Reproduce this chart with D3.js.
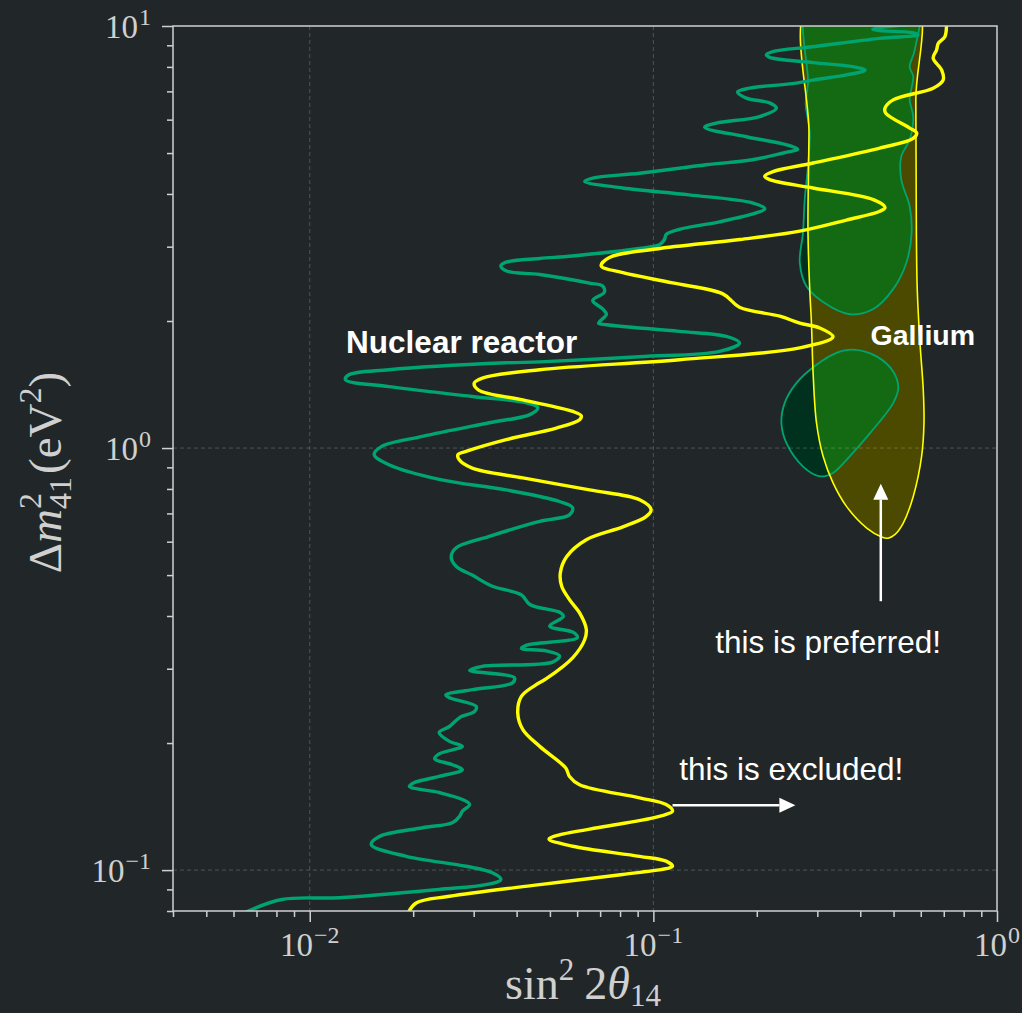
<!DOCTYPE html>
<html>
<head>
<meta charset="utf-8">
<script src="https://cdn.jsdelivr.net/npm/d3@7"></script>
<style>
  html, body { margin: 0; padding: 0; background: #212729; }
</style>
</head>
<body>
<div id="chart"></div>
<script>
// Reactor exclusion contour, [sin^2 2theta, dm^2 (eV^2)]
const reactorCurve = [
  [0.0064, 0.079], [0.0083, 0.0852], [0.0122, 0.086], [0.0238, 0.090], [0.0326, 0.0924], [0.036, 0.095],
  [0.034, 0.0986], [0.0285, 0.1021], [0.0191, 0.1078], [0.0151, 0.1149], [0.0159, 0.120], [0.0213, 0.126],
  [0.026, 0.1295], [0.0273, 0.1341], [0.0278, 0.1379], [0.0292, 0.143], [0.0278, 0.147], [0.0238, 0.1527],
  [0.0195, 0.1579], [0.0201, 0.1611], [0.0238, 0.1667], [0.0278, 0.1729], [0.026, 0.1777], [0.0231, 0.1836],
  [0.0238, 0.1886], [0.0278, 0.1964], [0.0255, 0.2018], [0.0238, 0.2118], [0.0255, 0.2189], [0.0273, 0.2298],
  [0.0302, 0.2376], [0.0305, 0.2443], [0.0255, 0.2561], [0.0249, 0.260], [0.0298, 0.2676], [0.0389, 0.2778],
  [0.0394, 0.2857], [0.0292, 0.2973], [0.0318, 0.304], [0.0509, 0.3111], [0.0533, 0.3217], [0.0488, 0.3306],
  [0.0413, 0.3351], [0.0428, 0.3412], [0.0601, 0.3555], [0.0585, 0.3657], [0.0499, 0.3786], [0.0547, 0.399],
  [0.0536, 0.4074], [0.0437, 0.4259], [0.0413, 0.449], [0.034, 0.4705], [0.0297, 0.50], [0.0267, 0.5242],
  [0.0258, 0.5526], [0.0267, 0.5804], [0.0333, 0.6177], [0.0467, 0.6702], [0.057, 0.6944], [0.0582, 0.7222],
  [0.0533, 0.7471], [0.0373, 0.7959], [0.0238, 0.843], [0.017, 0.913], [0.0154, 0.965], [0.0162, 1.009],
  [0.0213, 1.066], [0.0333, 1.148], [0.0437, 1.20], [0.0461, 1.246], [0.0427, 1.28], [0.0297, 1.325],
  [0.017, 1.398], [0.0127, 1.452], [0.013, 1.491], [0.017, 1.533], [0.0373, 1.592], [0.0467, 1.60],
  [0.0912, 1.646], [0.1558, 1.695], [0.178, 1.773], [0.163, 1.838], [0.119, 1.89], [0.073, 1.96],
  [0.0693, 1.977], [0.073, 2.075], [0.0712, 2.136], [0.0666, 2.237], [0.072, 2.34], [0.0712, 2.42],
  [0.0652, 2.46], [0.0467, 2.578], [0.0374, 2.627], [0.036, 2.702], [0.0373, 2.757], [0.0467, 2.813],
  [0.0582, 2.852], [0.0976, 2.995], [0.1042, 3.032], [0.1077, 3.12], [0.109, 3.208], [0.119, 3.297],
  [0.1558, 3.435], [0.199, 3.606], [0.211, 3.688], [0.194, 3.81], [0.127, 3.98], [0.0814, 4.132],
  [0.0631, 4.285], [0.0666, 4.363], [0.0912, 4.477], [0.1425, 4.69], [0.194, 4.82], [0.249, 5.04],
  [0.263, 5.103], [0.244, 5.23], [0.1864, 5.465], [0.141, 5.755], [0.1524, 5.887], [0.2038, 6.102],
  [0.228, 6.388], [0.218, 6.573], [0.1864, 6.746], [0.1758, 6.976], [0.1905, 7.122], [0.254, 7.305],
  [0.291, 7.445], [0.3647, 7.657], [0.413, 7.86], [0.38, 8.01], [0.291, 8.19], [0.218, 8.43],
  [0.2133, 8.54], [0.2225, 8.695], [0.291, 8.93], [0.456, 9.35], [0.589, 9.52], [0.567, 9.64],
  [0.456, 9.75], [0.435, 9.82], [0.456, 9.91], [0.567, 10.1]
];

// Gallium exclusion contour
const galliumCurve = [
  [0.0193, 0.079], [0.0204, 0.0836], [0.0255, 0.0867], [0.0467, 0.0924], [0.0814, 0.0976], [0.1114, 0.1012],
  [0.1137, 0.1021], [0.1089, 0.105], [0.0912, 0.1078], [0.0582, 0.1139], [0.0497, 0.1184], [0.0533, 0.1212],
  [0.073, 0.127], [0.1042, 0.1341], [0.1137, 0.1379], [0.1089, 0.143], [0.0912, 0.1483], [0.061, 0.1593],
  [0.057, 0.1667], [0.0556, 0.1745], [0.0467, 0.1964], [0.0417, 0.2152], [0.0403, 0.2355], [0.0413, 0.258],
  [0.0455, 0.2746], [0.0488, 0.2841], [0.0583, 0.3189], [0.0631, 0.3514], [0.0638, 0.3718], [0.061, 0.4067],
  [0.057, 0.4375], [0.0541, 0.4705], [0.0536, 0.5056], [0.0559, 0.5526], [0.0638, 0.6065], [0.0815, 0.6505],
  [0.0952, 0.6877], [0.0985, 0.7143], [0.0912, 0.7542], [0.0652, 0.7959], [0.0417, 0.8495], [0.0297, 0.8963],
  [0.0272, 0.939], [0.027, 0.965], [0.0285, 0.982], [0.0373, 1.047], [0.0522, 1.115], [0.061, 1.167],
  [0.0617, 1.192], [0.0583, 1.221], [0.0417, 1.30], [0.031, 1.372], [0.0301, 1.425], [0.0318, 1.465],
  [0.0467, 1.533], [0.119, 1.619], [0.2667, 1.727], [0.3333, 1.835], [0.305, 1.925], [0.2667, 1.977],
  [0.2332, 2.054], [0.178, 2.156], [0.1593, 2.319], [0.1137, 2.462], [0.0815, 2.603], [0.0705, 2.702],
  [0.0745, 2.828], [0.1019, 2.963], [0.1785, 3.12], [0.2667, 3.267], [0.3647, 3.469], [0.456, 3.639],
  [0.4723, 3.714], [0.4366, 3.878], [0.2916, 4.132], [0.218, 4.324], [0.2109, 4.407], [0.2229, 4.518],
  [0.2916, 4.736], [0.456, 5.137], [0.5705, 5.415], [0.5837, 5.582], [0.557, 5.73], [0.4744, 6.218],
  [0.4721, 6.388], [0.4987, 6.684], [0.652, 7.122], [0.697, 7.445], [0.6904, 7.86], [0.652, 8.39],
  [0.667, 8.776], [0.6748, 9.1], [0.705, 9.43], [0.713, 10.1]
];

// Gallium preferred region (closed)
const galliumRegion = [
  [0.2851, 11.5], [0.2837, 5.582], [0.2818, 3.244], [0.2851, 2.38], [0.2884, 1.98], [0.2916, 1.508],
  [0.2983, 1.148], [0.3118, 0.956], [0.3333, 0.8266], [0.3647, 0.7274], [0.4177, 0.6463], [0.4618, 0.6156],
  [0.4817, 0.6116], [0.5041, 0.6235], [0.5336, 0.6643], [0.5705, 0.768], [0.6034, 0.956], [0.6131, 1.147],
  [0.6101, 1.374], [0.596, 1.804], [0.586, 2.38], [0.5826, 3.244], [0.5805, 6.684], [0.5763, 11.5]
];

// Reactor preferred islands (closed)
const blobUpper = [
  [0.2851, 11.5], [0.2818, 7.305], [0.2775, 6.563], [0.2851, 5.572], [0.2818, 4.648], [0.2757, 3.878],
  [0.2726, 3.239], [0.2667, 2.753], [0.2787, 2.42], [0.3118, 2.218], [0.3728, 2.075], [0.4366, 2.136],
  [0.4987, 2.38], [0.5452, 2.753], [0.5643, 3.239], [0.557, 3.741], [0.5264, 4.324], [0.5264, 4.907],
  [0.557, 5.374], [0.5705, 6.102], [0.557, 6.684], [0.5705, 7.585], [0.557, 8.01], [0.5763, 8.776],
  [0.5837, 11.5]
];
const blobLower = [
  [0.381, 1.711], [0.4463, 1.649], [0.4987, 1.518], [0.5161, 1.387], [0.4987, 1.278], [0.4271, 1.085],
  [0.3728, 0.956], [0.3333, 0.873], [0.305, 0.857], [0.2726, 0.904], [0.2438, 1.028], [0.2358, 1.147],
  [0.241, 1.278], [0.2607, 1.425], [0.2983, 1.575], [0.341, 1.681]
];

// tick decades
const xTickExps = [-2, -1, 0];
const yTickExps = [-1, 0, 1];
const gridX = [0.01, 0.1];
const gridY = [0.1, 1];

const W = 1022, H = 1013;
const margin = { top: 26, right: 25, bottom: 102, left: 173 };
const width = W - margin.left - margin.right;
const height = H - margin.top - margin.bottom;

const svgRoot = d3.select("#chart").append("svg")
  .attr("width", W).attr("height", H)
  .style("background", "#212729")
  .style("display", "block");

const svg = svgRoot.append("g")
  .attr("transform", `translate(${margin.left},${margin.top})`);

const x = d3.scaleLog().domain([0.004, 1]).range([0, width]);
const y = d3.scaleLog().domain([0.08, 10]).range([height, 0]);

const line = d3.line().x(d => x(d[0])).y(d => y(d[1])).curve(d3.curveCatmullRom.alpha(0.5));
const closed = d3.line().x(d => x(d[0])).y(d => y(d[1])).curve(d3.curveCatmullRomClosed.alpha(0.5));

const defs = svgRoot.append("defs");
defs.append("clipPath").attr("id", "plotClip")
  .append("rect").attr("width", width).attr("height", height);
defs.append("clipPath").attr("id", "gaClip")
  .append("path").attr("d", closed(galliumRegion));

const plot = svg.append("g").attr("clip-path", "url(#plotClip)");

// filled regions
plot.append("path").attr("d", closed(galliumRegion)).attr("fill", "#4c4a00");
[blobUpper, blobLower].forEach(b => {
  plot.append("path").attr("d", closed(b)).attr("fill", "#00301e");
});
const inner = plot.append("g").attr("clip-path", "url(#gaClip)");
[blobUpper, blobLower].forEach(b => {
  inner.append("path").attr("d", closed(b)).attr("fill", "#146a12");
});
[blobUpper, blobLower].forEach(b => {
  plot.append("path").attr("d", closed(b))
    .attr("fill", "none").attr("stroke", "#00a470").attr("stroke-width", 1.8);
});
plot.append("path").attr("d", closed(galliumRegion))
  .attr("fill", "none").attr("stroke", "#ffff00").attr("stroke-width", 1.6);

// grid
plot.selectAll("line.gx").data(gridX).enter().append("line")
  .attr("x1", d => x(d)).attr("x2", d => x(d)).attr("y1", 0).attr("y2", height)
  .attr("stroke", "rgba(255,255,255,0.2)").attr("stroke-width", 1).attr("stroke-dasharray", "4,3");
plot.selectAll("line.gy").data(gridY).enter().append("line")
  .attr("y1", d => y(d)).attr("y2", d => y(d)).attr("x1", 0).attr("x2", width)
  .attr("stroke", "rgba(255,255,255,0.2)").attr("stroke-width", 1).attr("stroke-dasharray", "4,3");

// exclusion curves
plot.append("path").attr("d", line(reactorCurve))
  .attr("fill", "none").attr("stroke", "#00a470").attr("stroke-width", 3.4)
  .attr("stroke-linejoin", "round");
plot.append("path").attr("d", line(galliumCurve))
  .attr("fill", "none").attr("stroke", "#ffff00").attr("stroke-width", 3.4)
  .attr("stroke-linejoin", "round");

// axes
const axisColor = "#d0d0d0";
const xMinor = x.ticks().filter(t => !xTickExps.includes(Math.round(Math.log10(t) * 1000) / 1000));
const yMinor = y.ticks().filter(t => !yTickExps.includes(Math.round(Math.log10(t) * 1000) / 1000));
const xMajor = xTickExps.map(e => Math.pow(10, e));
const yMajor = yTickExps.map(e => Math.pow(10, e));

function styleAxis(g) {
  g.select(".domain").remove();
  g.selectAll("line").attr("stroke", axisColor).attr("stroke-width", 1.5);
}
svg.append("g").attr("transform", `translate(0,${height})`)
  .call(d3.axisBottom(x).tickValues(xMinor).tickSize(6).tickFormat("")).call(styleAxis);
svg.append("g").attr("transform", `translate(0,${height})`)
  .call(d3.axisBottom(x).tickValues(xMajor).tickSize(11).tickFormat("")).call(styleAxis);
svg.append("g")
  .call(d3.axisLeft(y).tickValues(yMinor).tickSize(6).tickFormat("")).call(styleAxis);
svg.append("g")
  .call(d3.axisLeft(y).tickValues(yMajor).tickSize(11).tickFormat("")).call(styleAxis);

svg.append("rect").attr("width", width).attr("height", height)
  .attr("fill", "none").attr("stroke", axisColor).attr("stroke-width", 1.5);

const serif = "'Liberation Serif', 'DejaVu Serif', serif";
function powLabel(sel, e) {
  sel.append("tspan").text("10");
  sel.append("tspan").attr("font-size", 24).attr("dx", 1).attr("dy", -13)
    .text(e < 0 ? "\u2212" + Math.abs(e) : String(e));
}
xTickExps.forEach(e => {
  const t = svg.append("text").attr("x", x(Math.pow(10, e))).attr("y", height + 45)
    .attr("text-anchor", "middle").attr("fill", axisColor)
    .attr("font-family", serif).attr("font-size", 33);
  powLabel(t, e);
});
yTickExps.forEach(e => {
  const t = svg.append("text").attr("x", -22).attr("y", y(Math.pow(10, e)) + 12)
    .attr("text-anchor", "end").attr("fill", axisColor)
    .attr("font-family", serif).attr("font-size", 33);
  powLabel(t, e);
});

// axis titles
const xl = svg.append("text").attr("x", width / 2 - 2).attr("y", height + 88)
  .attr("text-anchor", "middle").attr("fill", axisColor)
  .attr("font-family", serif).attr("font-size", 46);
xl.append("tspan").text("sin");
xl.append("tspan").attr("font-size", 31).attr("dy", -19).text("2");
xl.append("tspan").attr("dx", 10).attr("dy", 19).text("2");
xl.append("tspan").attr("font-style", "italic").text("\u03b8");
xl.append("tspan").attr("font-size", 31).attr("dy", 7).text("14");

const yl = svg.append("text")
  .attr("transform", `translate(${-112},${height / 2 + 4}) rotate(-90)`)
  .attr("text-anchor", "middle").attr("fill", axisColor)
  .attr("font-family", serif).attr("font-size", 47);
yl.append("tspan").text("\u0394");
yl.append("tspan").attr("font-style", "italic").text("m");
yl.append("tspan").attr("font-size", 32).attr("dy", -20).text("2");
yl.append("tspan").attr("font-size", 32).attr("dx", -16).attr("dy", 30).text("41");
yl.append("tspan").attr("dy", -10).attr("dx", 3).text("(eV");
yl.append("tspan").attr("font-size", 32).attr("dy", -20).text("2");
yl.append("tspan").attr("dy", 20).text(")");

// annotations
const sans = "'Liberation Sans', Arial, sans-serif";
svg.append("text").attr("x", x(0.01276)).attr("y", y(1.683))
  .attr("fill", "#ffffff").attr("font-family", sans).attr("font-weight", "bold")
  .attr("font-size", 31.5).text("Nuclear reactor");
svg.append("text").attr("x", x(0.4286)).attr("y", y(1.757))
  .attr("fill", "#ffffff").attr("font-family", sans).attr("font-weight", "bold")
  .attr("font-size", 28.5).text("Gallium");
svg.append("text").attr("x", x(0.3225)).attr("y", y(0.3265))
  .attr("text-anchor", "middle")
  .attr("fill", "#ffffff").attr("font-family", sans).attr("font-size", 31.5)
  .text("this is preferred!");
svg.append("text").attr("x", x(0.252)).attr("y", y(0.1638))
  .attr("text-anchor", "middle")
  .attr("fill", "#ffffff").attr("font-family", sans).attr("font-size", 31.5)
  .text("this is excluded!");

function arrow(from, to) {
  const x0 = x(from[0]), y0 = y(from[1]), x1 = x(to[0]), y1 = y(to[1]);
  const ang = Math.atan2(y1 - y0, x1 - x0);
  const hl = 16, hw = 7.5;
  const bx = x1 - hl * Math.cos(ang), by = y1 - hl * Math.sin(ang);
  svg.append("line").attr("x1", x0).attr("y1", y0).attr("x2", bx).attr("y2", by)
    .attr("stroke", "#ffffff").attr("stroke-width", 2.5);
  const px = -Math.sin(ang), py = Math.cos(ang);
  svg.append("path")
    .attr("d", `M${x1},${y1}L${bx + hw * px},${by + hw * py}L${bx - hw * px},${by - hw * py}Z`)
    .attr("fill", "#ffffff");
}
arrow([0.1137, 0.1425], [0.259, 0.1425]);
arrow([0.459, 0.4336], [0.459, 0.8234]);
</script>
</body>
</html>
